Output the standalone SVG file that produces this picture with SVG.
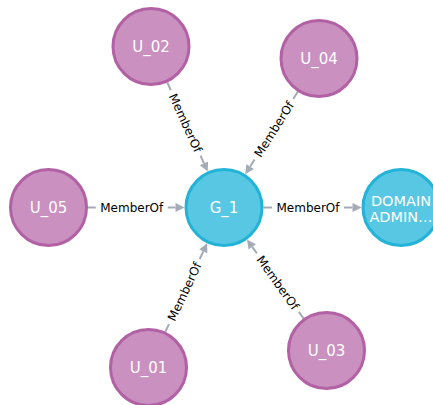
<svg xmlns="http://www.w3.org/2000/svg" width="433" height="405" viewBox="0 0 433 405">
  <style>
    .user circle { fill: #C990C0; stroke: #B261A5; stroke-width: 3; }
    .group circle { fill: #57C7E3; stroke: #23B3D7; stroke-width: 3; }
    .node text { fill: #FFFFFF; font-family: "DejaVu Sans", sans-serif; font-size: 15px; text-anchor: middle; }
    .node text.wrap { font-size: 14.5px; }
    .shaft { stroke: #A5ABB6; stroke-width: 2; fill: none; }
    .head { fill: #A5ABB6; }
    .rel text { fill: #000000; font-family: "DejaVu Sans", sans-serif; font-size: 12px; text-anchor: middle; }
  </style>
  <rect width="433" height="405" fill="#FFFFFF"/>

  <g id="connectors">
    <!-- U_02 -> G_1 -->
    <g class="rel">
      <line class="shaft" x1="167.31" y1="82.47" x2="170.77" y2="90.11"/>
      <line class="shaft" x1="200.51" y1="155.69" x2="203.97" y2="163.33"/>
      <polygon class="head" points="207.69,171.53 199.87,165.19 208.07,161.47"/>
      <text transform="translate(185.64 122.90) rotate(65.61)" y="4.4">MemberOf</text>
    </g>
    <!-- U_04 -> G_1 -->
    <g class="rel">
      <line class="shaft" x1="297.76" y1="91.81" x2="293.26" y2="98.86"/>
      <line class="shaft" x1="254.56" y1="159.56" x2="250.08" y2="166.60"/>
      <polygon class="head" points="245.24,174.19 246.29,164.18 253.87,169.02"/>
      <text transform="translate(273.91 129.21) rotate(-57.48)" y="4.4">MemberOf</text>
    </g>
    <!-- U_05 -> G_1 -->
    <g class="rel">
      <line class="shaft" x1="88" y1="207.5" x2="95.75" y2="207.5"/>
      <line class="shaft" x1="167.75" y1="207.5" x2="175.5" y2="207.5"/>
      <polygon class="head" points="184.5,207.5 175.5,203 175.5,212"/>
      <text x="131.75" y="211.9">MemberOf</text>
    </g>
    <!-- G_1 -> DOMAIN ADMINS -->
    <g class="rel">
      <line class="shaft" x1="263.5" y1="207.5" x2="272" y2="207.5"/>
      <line class="shaft" x1="344" y1="207.5" x2="352.5" y2="207.5"/>
      <polygon class="head" points="361.5,207.5 352.5,203 352.5,212"/>
      <text x="308" y="211.9">MemberOf</text>
    </g>
    <!-- U_01 -> G_1 -->
    <g class="rel">
      <line class="shaft" x1="165.36" y1="331.78" x2="168.97" y2="324.13"/>
      <line class="shaft" x1="199.69" y1="259.01" x2="203.30" y2="251.36"/>
      <polygon class="head" points="207.14,243.22 207.37,253.28 199.23,249.44"/>
      <text transform="translate(184.33 291.57) rotate(-64.74)" y="4.4">MemberOf</text>
    </g>
    <!-- U_03 -> G_1 -->
    <g class="rel">
      <line class="shaft" x1="303.49" y1="318.40" x2="298.84" y2="311.92"/>
      <line class="shaft" x1="256.90" y1="253.40" x2="252.25" y2="246.91"/>
      <polygon class="head" points="247.01,239.60 255.91,244.29 248.59,249.53"/>
      <text transform="translate(277.87 282.66) rotate(54.37)" y="4.4">MemberOf</text>
    </g>
  </g>

  <g id="U_02" class="node user">
    <circle cx="151" cy="46.5" r="38"/>
    <text x="151" y="52">U_02</text>
  </g>
  <g id="U_04" class="node user">
    <circle cx="319" cy="58.5" r="38"/>
    <text x="319" y="64">U_04</text>
  </g>
  <g id="U_05" class="node user">
    <circle cx="48.5" cy="207.5" r="38"/>
    <text x="48.5" y="213">U_05</text>
  </g>
  <g id="G_1" class="node group">
    <circle cx="224" cy="207.5" r="38"/>
    <text x="224" y="213">G_1</text>
  </g>
  <g id="DOMAIN_ADMINS" class="node group">
    <circle cx="401" cy="207.5" r="38"/>
    <text class="wrap" x="401" y="205.5">DOMAIN</text>
    <text class="wrap" x="401" y="221.5">ADMIN…</text>
  </g>
  <g id="U_01" class="node user">
    <circle cx="148.5" cy="367.5" r="38"/>
    <text x="148.5" y="373">U_01</text>
  </g>
  <g id="U_03" class="node user">
    <circle cx="326.5" cy="350.5" r="38"/>
    <text x="326.5" y="356">U_03</text>
  </g>
</svg>
